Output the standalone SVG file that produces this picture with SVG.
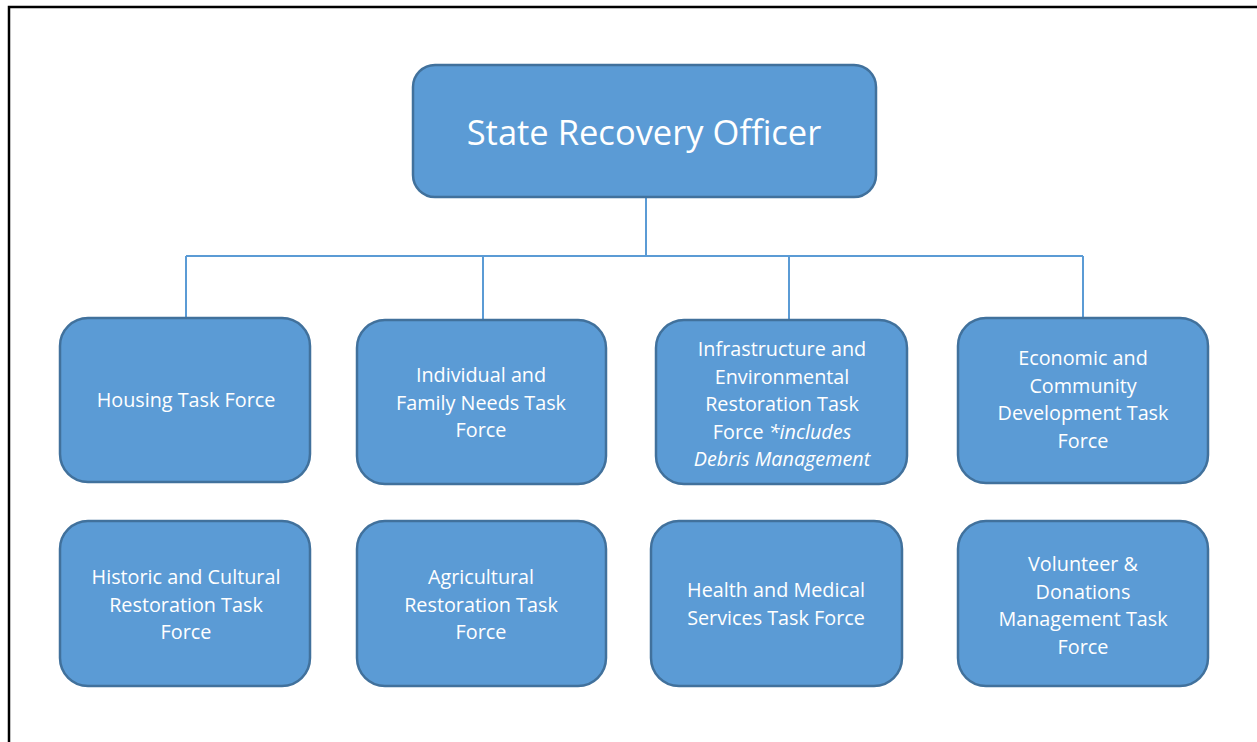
<svg xmlns="http://www.w3.org/2000/svg" width="1257" height="742" viewBox="0 0 1257 742">
<style>
.box{fill:#5B9BD5;stroke:#41719C;stroke-width:2.5}
.t{font-family:"Open Sans","Noto Sans","Liberation Sans",sans-serif;fill:#fff;text-anchor:middle;font-size:19.8px}
.ti{font-style:italic}
.con{stroke:#5B9BD5;stroke-width:2;fill:none}
</style>
<rect width="1257" height="742" fill="#fff"/>
<path d="M9 742 V7 H1257" stroke="#000" stroke-width="2.5" fill="none"/>
<g id="connectors">
<path class="con" d="M646 198 V256"/>
<path class="con" d="M186 256 H1083"/>
<path class="con" d="M186 256 V318"/>
<path class="con" d="M483 256 V320"/>
<path class="con" d="M789 256 V319"/>
<path class="con" d="M1083 256 V318"/>
</g>
<g id="sro">
<rect class="box" x="413" y="65" width="463" height="132" rx="22"/>
<text class="t" x="644" y="145" style="font-size:34.5px">State Recovery Officer</text>
</g>
<g id="housing">
<rect class="box" x="60" y="318" width="250" height="164" rx="28"/>
<text class="t" x="186" y="407">Housing Task Force</text>
</g>
<g id="individual">
<rect class="box" x="357" y="320" width="249" height="164" rx="28"/>
<text class="t" x="481" y="382">Individual and</text>
<text class="t" x="481" y="410">Family Needs Task</text>
<text class="t" x="481" y="437">Force</text>
</g>
<g id="infrastructure">
<rect class="box" x="656" y="320" width="251" height="164" rx="28"/>
<text class="t" x="782" y="356">Infrastructure and</text>
<text class="t" x="782" y="384">Environmental</text>
<text class="t" x="782" y="411">Restoration Task</text>
<text class="t" x="782" y="439">Force <tspan class="ti">*includes</tspan></text>
<text class="t ti" x="782" y="466">Debris Management</text>
</g>
<g id="economic">
<rect class="box" x="958" y="318" width="250" height="165" rx="28"/>
<text class="t" x="1083" y="365">Economic and</text>
<text class="t" x="1083" y="393">Community</text>
<text class="t" x="1083" y="420">Development Task</text>
<text class="t" x="1083" y="448">Force</text>
</g>
<g id="historic">
<rect class="box" x="60" y="521" width="250" height="165" rx="28"/>
<text class="t" x="186" y="584">Historic and Cultural</text>
<text class="t" x="186" y="612">Restoration Task</text>
<text class="t" x="186" y="639">Force</text>
</g>
<g id="agricultural">
<rect class="box" x="357" y="521" width="249" height="165" rx="28"/>
<text class="t" x="481" y="584">Agricultural</text>
<text class="t" x="481" y="612">Restoration Task</text>
<text class="t" x="481" y="639">Force</text>
</g>
<g id="health">
<rect class="box" x="651" y="521" width="251" height="165" rx="28"/>
<text class="t" x="776" y="597">Health and Medical</text>
<text class="t" x="776" y="625">Services Task Force</text>
</g>
<g id="volunteer">
<rect class="box" x="958" y="521" width="250" height="165" rx="28"/>
<text class="t" x="1083" y="571">Volunteer &amp;</text>
<text class="t" x="1083" y="599">Donations</text>
<text class="t" x="1083" y="626">Management Task</text>
<text class="t" x="1083" y="654">Force</text>
</g>
</svg>
